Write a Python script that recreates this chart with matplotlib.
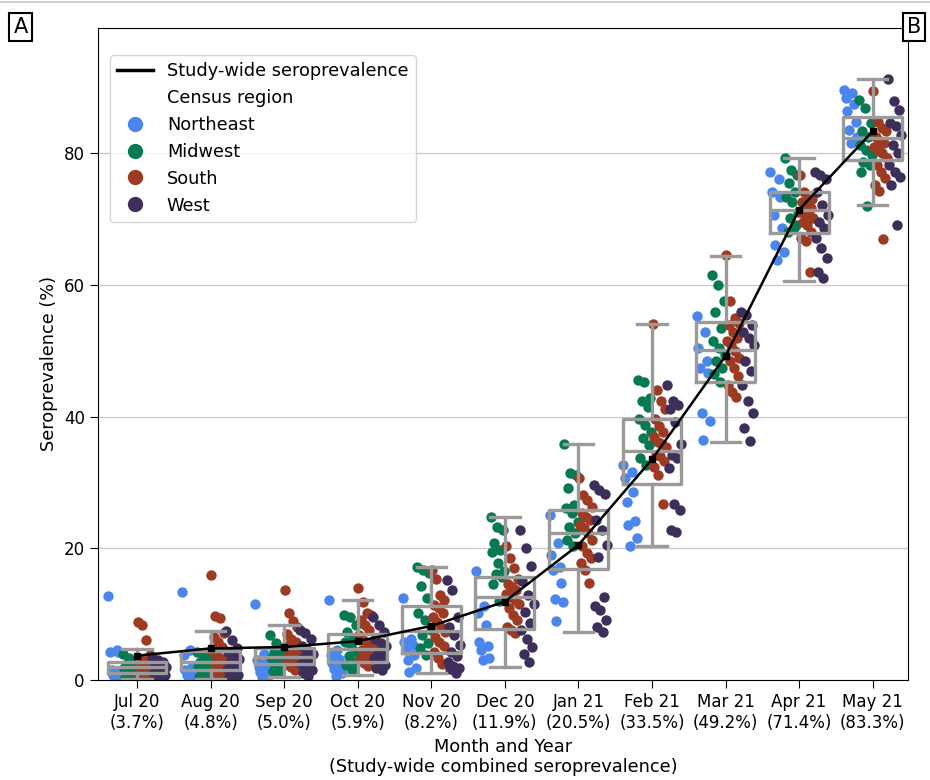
import numpy as np
import matplotlib.pyplot as plt
from matplotlib.lines import Line2D

months = ["Jul 20", "Aug 20", "Sep 20", "Oct 20", "Nov 20", "Dec 20",
          "Jan 21", "Feb 21", "Mar 21", "Apr 21", "May 21"]
study_wide = [3.7, 4.8, 5.0, 5.9, 8.2, 11.9, 20.5, 33.5, 49.2, 71.4, 83.3]

# box statistics
box_q1 = [1.0, 1.5, 2.4, 2.7, 4.1, 7.7, 16.8, 29.7, 45.3, 67.8, 79.0]
box_med = [1.9, 2.8, 3.5, 4.7, 7.5, 12.6, 22.3, 34.7, 50.1, 71.3, 82.3]
box_q3 = [2.8, 4.4, 4.9, 7.0, 11.3, 15.7, 25.8, 39.6, 54.3, 74.1, 85.5]
box_lo = [0.2, 0.2, 0.4, 0.8, 1.0, 1.9, 7.3, 20.3, 36.1, 60.6, 72.1]
box_hi = [4.7, 7.4, 8.4, 12.2, 17.1, 24.7, 35.9, 54.0, 64.4, 79.2, 91.3]

# state-level seroprevalence by census region, one list per month
northeast = [
    [12.8, 4.5, 4.3, 4.2, 1.5, 1.0, 0.7, 0.5, 0.3],
    [13.3, 4.5, 3.8, 2.0, 1.5, 1.0, 0.7, 0.5, 0.3],
    [11.5, 4.0, 3.0, 2.5, 2.0, 1.6, 1.2, 0.8, 0.5],
    [12.2, 4.5, 3.8, 3.2, 2.6, 2.1, 1.6, 1.1, 0.6],
    [12.5, 6.3, 5.7, 5.3, 4.5, 3.8, 3.0, 1.8, 1.2],
    [16.6, 11.3, 10.2, 8.3, 5.8, 5.2, 4.5, 3.3, 3.0],
    [25.0, 20.8, 19.0, 17.2, 16.7, 14.7, 12.3, 11.9, 8.9],
    [32.6, 31.6, 30.6, 28.6, 27.1, 24.1, 23.6, 21.6, 20.3],
    [55.2, 52.9, 50.4, 48.4, 47.4, 46.6, 40.6, 39.3, 36.4],
    [77.2, 76.0, 74.1, 73.3, 70.6, 68.6, 66.0, 65.0, 63.8],
    [89.6, 89.1, 88.4, 87.4, 86.4, 84.8, 83.5, 82.5, 81.5],
]
midwest = [
    [4.0, 3.4, 2.8, 2.5, 2.2, 1.8, 1.5, 1.2, 0.9, 0.7, 0.4, 0.2],
    [4.3, 3.8, 3.3, 2.8, 2.4, 2.0, 1.6, 1.2, 0.9, 0.6, 0.4, 0.2],
    [6.8, 5.6, 4.6, 4.2, 3.8, 3.4, 3.0, 2.6, 2.2, 1.8, 1.4, 1.0],
    [9.8, 9.5, 8.4, 7.3, 6.3, 5.8, 5.1, 4.3, 3.6, 2.8, 2.3, 1.5],
    [17.2, 16.7, 16.2, 14.2, 12.4, 10.1, 9.1, 7.6, 6.8, 5.6, 4.8, 3.8],
    [24.7, 23.3, 22.8, 20.8, 19.8, 19.5, 17.7, 16.6, 16.1, 15.6, 14.6, 12.0],
    [35.9, 31.4, 31.1, 29.1, 26.6, 26.1, 25.3, 24.0, 23.3, 22.3, 21.3, 20.3],
    [45.5, 45.3, 42.8, 42.3, 41.5, 39.7, 38.7, 37.7, 36.7, 35.7, 33.7, 32.6],
    [61.5, 60.0, 57.5, 55.9, 53.4, 51.4, 50.4, 49.4, 48.4, 47.4, 46.4, 45.3],
    [79.2, 77.4, 76.7, 75.4, 74.1, 73.4, 72.6, 71.1, 70.1, 69.1, 68.1, 68.6],
    [88.1, 86.9, 84.6, 83.3, 82.5, 81.3, 80.5, 79.7, 78.7, 78.2, 77.2, 72.0],
]
south = [
    [8.8, 8.3, 6.1, 3.8, 3.2, 2.9, 2.6, 2.3, 2.0, 1.8, 1.6, 1.4, 1.2, 1.0, 0.8, 0.5, 0.3],
    [16.0, 9.7, 9.4, 7.2, 6.5, 5.8, 5.0, 4.4, 3.9, 3.4, 3.0, 2.6, 2.2, 1.8, 1.3, 0.9, 0.5],
    [13.6, 10.1, 9.0, 8.0, 7.0, 6.3, 5.7, 5.2, 4.8, 4.4, 4.0, 3.6, 3.2, 2.8, 2.4, 2.0, 1.5],
    [13.9, 11.9, 10.1, 9.8, 9.1, 8.4, 7.6, 6.8, 6.1, 5.6, 5.1, 4.6, 4.1, 3.6, 3.1, 2.6, 2.1],
    [16.7, 15.4, 12.9, 12.1, 11.4, 10.9, 10.1, 9.6, 8.8, 8.1, 7.3, 6.6, 5.8, 5.1, 4.3, 3.3, 2.5],
    [20.3, 18.5, 17.0, 15.4, 14.6, 14.1, 13.6, 13.1, 12.6, 12.1, 11.6, 10.9, 9.9, 9.1, 8.1, 7.6, 7.1],
    [30.6, 28.1, 27.3, 26.3, 25.3, 24.8, 24.3, 23.6, 23.1, 22.3, 21.3, 20.3, 19.3, 18.5, 17.7, 16.7, 14.7],
    [54.0, 44.0, 42.3, 41.2, 39.7, 38.5, 37.7, 36.9, 36.2, 35.8, 35.4, 34.2, 34.0, 33.2, 32.4, 31.1, 26.8],
    [64.5, 57.5, 54.9, 54.2, 53.9, 52.9, 52.0, 51.4, 50.9, 49.9, 48.9, 48.4, 47.4, 46.1, 44.8, 43.8, 43.0],
    [76.7, 74.1, 73.1, 73.0, 72.6, 72.1, 71.6, 71.1, 70.8, 70.6, 70.1, 69.6, 69.1, 68.1, 67.1, 66.6, 62.0],
    [89.4, 84.8, 83.8, 83.3, 82.5, 81.8, 81.5, 81.0, 80.5, 80.0, 79.2, 78.2, 77.2, 76.2, 75.1, 74.3, 66.9],
]
west = [
    [3.5, 3.0, 2.7, 2.4, 2.1, 1.9, 1.6, 1.3, 1.1, 0.9, 0.7, 0.5, 0.3],
    [7.4, 6.0, 4.8, 4.2, 3.7, 3.2, 2.7, 2.2, 1.7, 1.2, 0.8, 0.5, 0.3],
    [7.6, 7.2, 6.3, 5.1, 4.6, 4.0, 3.5, 3.0, 2.5, 2.0, 1.5, 1.0, 0.6],
    [9.6, 8.4, 7.3, 6.3, 5.6, 5.1, 4.3, 3.8, 3.3, 2.8, 2.3, 1.8, 1.5],
    [15.2, 13.7, 9.6, 8.1, 6.8, 5.3, 4.3, 3.6, 2.8, 2.1, 1.8, 1.6, 1.1],
    [22.8, 20.1, 17.3, 15.0, 12.9, 11.6, 10.4, 8.6, 7.6, 6.3, 5.0, 4.0, 2.7],
    [29.6, 28.9, 28.2, 24.3, 22.8, 20.5, 18.7, 12.6, 11.3, 10.6, 9.1, 8.1, 7.3],
    [44.8, 42.3, 41.8, 41.2, 39.2, 35.8, 34.2, 33.7, 32.2, 26.8, 25.8, 22.8, 22.5],
    [55.9, 55.4, 53.9, 52.9, 51.9, 50.9, 48.4, 46.9, 44.8, 42.3, 40.6, 38.3, 36.3],
    [77.2, 76.7, 76.0, 74.1, 72.1, 70.6, 69.6, 68.6, 67.1, 65.6, 64.1, 62.0, 61.0],
    [91.3, 87.9, 86.6, 84.6, 84.1, 82.8, 81.3, 80.0, 78.2, 77.2, 76.4, 75.1, 69.1],
]

regions = ["Northeast", "Midwest", "South", "West"]
colors = ["#4a86ec", "#087a52", "#9e3a22", "#3d2f5a"]
offsets = [-0.3, -0.1, 0.1, 0.3]

fig = plt.figure(figsize=(9.3, 7.8), dpi=100)
ax = fig.add_axes([0.1054, 0.1282, 0.8709, 0.8359])
x = np.arange(len(months))

# strip points, dodged by region with a fixed spread
for data, color, off in zip([northeast, midwest, south, west], colors, offsets):
    for i, vals in enumerate(data):
        n = len(vals)
        spread = ((np.arange(n) * 5) % n) / (n - 1) - 0.5
        ax.scatter(i + off + spread * 0.18, vals, s=56, color=color,
                   linewidths=0, zorder=2)

stats = [dict(q1=a, med=b, q3=c, whislo=d, whishi=e, fliers=[])
         for a, b, c, d, e in zip(box_q1, box_med, box_q3, box_lo, box_hi)]
gray = dict(color="#9a9a9a", linewidth=2.4)
ax.bxp(stats, positions=x, widths=0.8, capwidths=0.4, showfliers=False,
       boxprops=gray, whiskerprops=gray, capprops=gray, medianprops=gray,
       zorder=3)

ax.plot(x, study_wide, color="black", lw=1.8, marker="s", ms=4, zorder=4)

ax.set_xlim(-0.53, 10.48)
ax.set_ylim(0, 99)
ax.set_yticks([0, 20, 40, 60, 80])
ax.set_xticks(x, labels=[f"{m}\n({v:.1f}%)" for m, v in zip(months, study_wide)])
ax.tick_params(labelsize=12, length=6)
ax.yaxis.grid(True, color="#c8c8c8", lw=0.9)
ax.set_axisbelow(True)
ax.set_ylabel("Seroprevalence (%)", fontsize=12.8)
ax.yaxis.set_label_coords(-0.05, 0.485)
ax.set_xlabel("Month and Year\n(Study-wide combined seroprevalence)", fontsize=12.8)

handles = [Line2D([], [], color="black", lw=2.5),
           Line2D([], [], lw=0, marker=None)]
labels = ["Study-wide seroprevalence", "Census region"]
for r, c in zip(regions, colors):
    handles.append(Line2D([], [], lw=0, marker="o", ms=10, color=c))
    labels.append(r)
ax.legend(handles, labels, loc="upper left", bbox_to_anchor=(0.0148, 0.9586),
          borderaxespad=0, fontsize=12.8, labelspacing=0.5)

fig.text(0.022, 0.965, "A", fontsize=15, ha="center", va="center",
         bbox=dict(boxstyle="square,pad=0.2", fc="white", ec="black", lw=1.5))
fig.text(0.983, 0.965, "B", fontsize=15, ha="center", va="center",
         bbox=dict(boxstyle="square,pad=0.2", fc="white", ec="black", lw=1.5))
fig.add_artist(Line2D([0, 1], [0.997, 0.997], color="#d0d0d0", lw=1.5))

fig.savefig("out.png", dpi=100)
